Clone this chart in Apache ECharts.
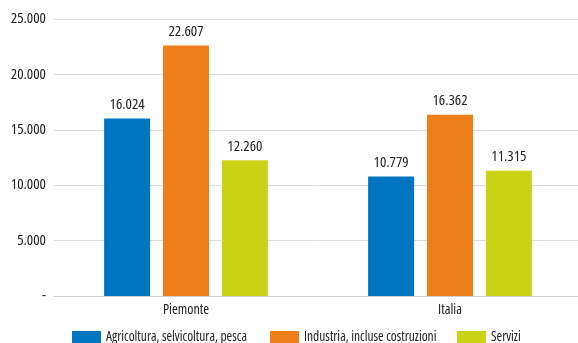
<!DOCTYPE html>
<html>
<head>
<meta charset="utf-8">
<script src="https://cdn.jsdelivr.net/npm/echarts@6/dist/echarts.min.js"></script>
<style>
  html, body { margin: 0; padding: 0; background: #fff; }
  #chart { width: 578px; height: 343px; }
</style>
</head>
<body>
<div id="chart"></div>
<script>
const categories = ['Piemonte', 'Italia'];
const seriesNames = ['Agricoltura, selvicoltura, pesca', 'Industria, incluse costruzioni', 'Servizi'];
const agricoltura = [16024, 10779];
const industria = [22607, 16362];
const servizi = [12260, 11315];
const colors = ['#0075bf', '#ef7f1a', '#cbd317'];

// Open Sans has a width axis; "condensed" goes into the canvas font shorthand
const fontFamily = '"Open Sans"';
const fontWeight = 'condensed';

// 12345 -> "12.345", 0 -> "-"
function fmt(v) {
    if (v === 0) return '-';
    return String(v).replace(/\B(?=(\d{3})+(?!\d))/g, '.');
}

const myChart = echarts.init(document.getElementById('chart'));

const makeSeries = (name, data, i) => ({
    name: name,
    type: 'bar',
    data: data,
    barWidth: 46,
    barGap: '28%',
    itemStyle: { color: colors[i] },
    label: {
        show: true,
        position: 'top',
        distance: 6,
        color: '#222',
        fontFamily: fontFamily,
        fontWeight: fontWeight,
        fontSize: 15,
        formatter: p => fmt(p.value)
    }
});

const makeLegend = (name, left) => ({
    data: [name],
    top: 330,
    left: left,
    padding: 0,
    itemWidth: 29,
    itemHeight: 12,
    itemGap: 0,
    icon: 'rect',
    textStyle: { color: '#222', fontSize: 13.5, fontFamily: fontFamily, fontWeight: fontWeight }
});

const option = {
    animation: false,
    grid: { left: 54, width: 528, top: 19, bottom: 47, outerBoundsMode: 'none' },
    legend: [
        makeLegend(seriesNames[0], 72),
        makeLegend(seriesNames[1], 270),
        makeLegend(seriesNames[2], 457)
    ],
    xAxis: {
        type: 'category',
        data: categories,
        axisTick: { show: false },
        axisLine: { lineStyle: { color: '#cfcfcf', width: 1 } },
        axisLabel: { color: '#222', fontSize: 14, margin: 7, fontFamily: fontFamily, fontWeight: fontWeight }
    },
    yAxis: {
        type: 'value',
        min: 0,
        max: 25000,
        interval: 5000,
        axisLine: { show: false },
        axisTick: { show: false },
        splitLine: { lineStyle: { color: '#dcdcdc', width: 1 } },
        axisLabel: {
            color: '#222',
            fontSize: 15,
            margin: 8,
            fontFamily: fontFamily,
            fontWeight: fontWeight,
            formatter: v => fmt(v)
        }
    },
    series: [
        makeSeries(seriesNames[0], agricoltura, 0),
        makeSeries(seriesNames[1], industria, 1),
        makeSeries(seriesNames[2], servizi, 2)
    ]
};

myChart.setOption(option);
</script>
</body>
</html>
